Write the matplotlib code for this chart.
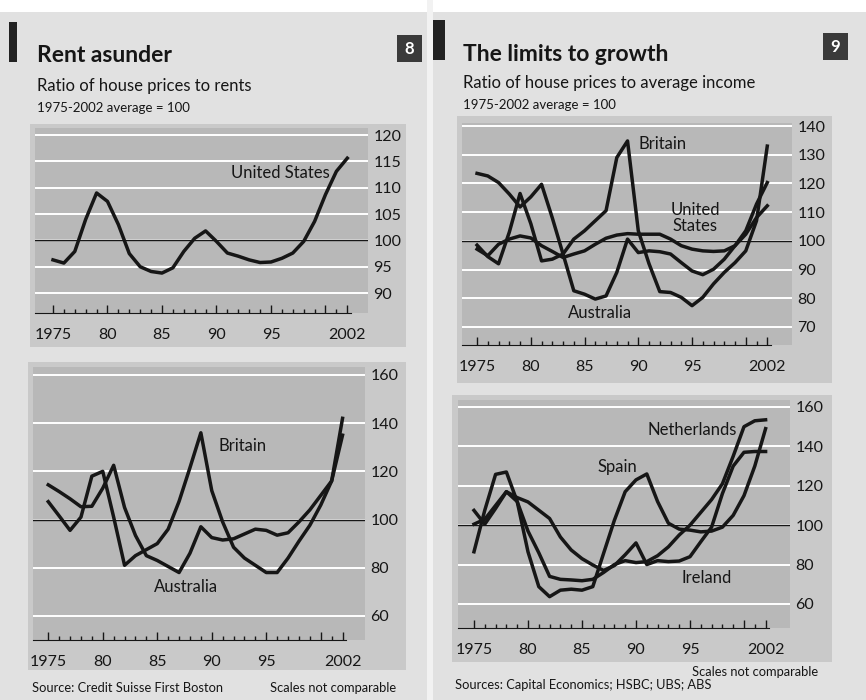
import matplotlib.pyplot as plt
from matplotlib.patches import Rectangle

years = list(range(1975, 2003))

# chart 8, ratio of house prices to rents
us_rent = [96.3, 95.7, 97.9, 104.0, 109.0, 107.4, 103.0, 97.5, 95.0, 94.1,
           93.8, 94.8, 97.9, 100.4, 101.8, 99.8, 97.6, 97.0, 96.3, 95.8,
           95.9, 96.6, 97.6, 99.8, 103.6, 108.7, 113.1, 115.6]
britain_rent = [107.4, 101.5, 95.5, 101.0, 118.0, 120.0, 101.0, 81.0, 85.0, 87.5,
                90.0, 96.0, 107.5, 121.5, 136.0, 112.0, 99.0, 88.5, 84.0, 81.0,
                78.0, 78.0, 84.0, 91.0, 97.6, 106.0, 116.0, 142.0]
australia_rent = [114.4, 111.6, 108.6, 105.3, 105.5, 113.0, 122.5, 105.0, 93.4, 85.0,
                  83.0, 80.5, 78.0, 86.0, 97.0, 92.5, 91.5, 92.0, 94.0, 96.0,
                  95.5, 93.5, 94.5, 99.0, 104.0, 110.0, 116.0, 135.0]

# chart 9, ratio of house prices to average income
britain_inc = [98.5, 94.5, 92.0, 103.0, 116.5, 106.0, 93.0, 93.6, 95.4, 100.6,
               103.5, 107.0, 110.5, 129.0, 134.8, 103.5, 92.0, 82.3, 82.0, 80.3,
               77.4, 80.3, 85.0, 89.0, 92.4, 96.5, 107.0, 133.0]
us_inc = [97.1, 94.8, 98.8, 100.6, 101.7, 101.0, 98.3, 96.3, 94.2, 95.4,
          96.5, 98.8, 100.9, 102.0, 102.5, 102.3, 102.3, 102.3, 100.6, 98.3,
          97.1, 96.5, 96.3, 96.5, 98.3, 102.3, 108.1, 112.2]
australia_inc = [123.5, 122.6, 120.3, 116.3, 111.8, 115.3, 119.7, 108.0, 95.4, 82.6,
                 81.4, 79.7, 80.8, 89.0, 100.6, 95.9, 96.5, 96.2, 95.4, 92.4,
                 89.5, 88.2, 90.1, 93.6, 98.3, 103.5, 112.8, 120.3]
spain_inc = [86.5, 107.6, 125.8, 127.0, 112.0, 86.5, 68.8, 63.7, 67.0, 67.5,
             67.0, 68.8, 85.7, 102.5, 117.0, 123.0, 126.0, 112.0, 101.0, 98.0,
             97.5, 96.6, 97.0, 99.0, 105.0, 115.0, 130.0, 149.0]
netherlands_inc = [100.5, 103.0, 110.0, 117.0, 112.0, 97.0, 86.0, 74.0, 72.5, 72.2,
                   71.8, 72.5, 76.0, 80.0, 82.0, 81.0, 81.5, 84.5, 89.0, 95.0,
                   100.0, 106.5, 113.0, 121.0, 135.0, 150.0, 153.0, 153.5]
ireland_inc = [107.5, 100.5, 108.5, 117.0, 114.0, 111.8, 107.6, 103.4, 94.0, 87.4,
               83.0, 79.8, 77.0, 79.5, 85.0, 91.0, 80.0, 82.0, 81.5, 81.8,
               84.0, 91.6, 99.0, 116.0, 130.0, 137.0, 137.4, 137.4]

W, H = 866, 700
plt.rcParams['font.family'] = ['Lato', 'DejaVu Sans']
INK = '#161616'

fig = plt.figure(figsize=(W / 100, H / 100), dpi=100, facecolor='#e1e1e1')


def rect(x0, y0, x1, y1, color):
    fig.add_artist(Rectangle((x0 / W, 1 - y1 / H), (x1 - x0) / W, (y1 - y0) / H,
                             transform=fig.transFigure, facecolor=color,
                             edgecolor='none', zorder=0))


def ftext(x, y, s, **kw):
    fig.text(x / W, 1 - y / H, s, color=INK, **kw)


def panel(box, xlim, ylim, yticks):
    x0, y0, x1, y1 = box
    ax = fig.add_axes([x0 / W, 1 - y1 / H, (x1 - x0) / W, (y1 - y0) / H])
    ax.set_facecolor('#b8b8b8')
    ax.set_xlim(xlim)
    ax.set_ylim(ylim)
    for s in ['top', 'left', 'right']:
        ax.spines[s].set_visible(False)
    ax.spines['bottom'].set_bounds(xlim[0], 2002.3)
    ax.spines['bottom'].set_color(INK)
    ax.set_axisbelow(True)
    ax.set_yticks(yticks)
    ax.yaxis.tick_right()
    ax.tick_params(axis='y', length=0, pad=4, labelsize=11.5, labelcolor=INK)
    ax.grid(axis='y', color='white', lw=1.4)
    ax.axhline(100, color=INK, lw=1.0, zorder=2)
    ax.set_xticks([1975, 1980, 1985, 1990, 1995, 2000, 2002])
    ax.set_xticklabels(['1975', '80', '85', '90', '95', '', '2002'])
    ax.set_xticks(years, minor=True)
    ax.tick_params(axis='x', which='both', direction='in', labelsize=11.5,
                   pad=11, labelcolor=INK, color=INK, width=1)
    ax.tick_params(axis='x', which='major', length=6)
    ax.tick_params(axis='x', which='minor', length=3)
    return ax


def line(ax, vals):
    ax.plot(years, vals, color=INK, lw=2.5, solid_joinstyle='round', zorder=3)


# page pieces
rect(0, 0, W, 12, 'white')
rect(427, 0, 433, H, '#f2f2f2')
rect(9, 22, 17, 62, '#222222')
rect(433, 20, 445, 60, '#222222')
rect(30, 124, 406, 347, '#c9c9c9')
rect(28, 362, 406, 670, '#c9c9c9')
rect(457, 116, 832, 383, '#c9c9c9')
rect(452, 395, 832, 662, '#c9c9c9')

# chart 8 headings
ftext(37, 62, 'Rent asunder', fontsize=16.5, fontweight='bold', va='baseline')
ftext(37, 91, 'Ratio of house prices to rents', fontsize=12, va='baseline')
ftext(37, 112, '1975-2002 average = 100', fontsize=9.5, va='baseline')
rect(397, 35, 422, 62, '#3a3a3a')
fig.text(409.5 / W, 1 - 49 / H, '8', color='white', fontsize=12, fontweight='bold',
         ha='center', va='center')

# chart 9 headings
ftext(463, 61, 'The limits to growth', fontsize=16.5, fontweight='bold', va='baseline')
ftext(463, 88, 'Ratio of house prices to average income', fontsize=12, va='baseline')
ftext(463, 109, '1975-2002 average = 100', fontsize=9.5, va='baseline')
rect(823, 33, 848, 60, '#3a3a3a')
fig.text(835.5 / W, 1 - 47 / H, '9', color='white', fontsize=12, fontweight='bold',
         ha='center', va='center')

# chart 8, top: United States
ax1 = panel((35, 128, 368, 313), (1973.35, 2003.9), (86.22, 121.33),
            [90, 95, 100, 105, 110, 115, 120])
line(ax1, us_rent)
ax1.text(1995.9, 112.8, 'United States', ha='center', va='center', fontsize=12, color=INK)

# chart 8, bottom: Britain and Australia
ax2 = panel((33, 367, 365, 640), (1973.6, 2004.06), (50.0, 163.3),
            [60, 80, 100, 120, 140, 160])
line(ax2, australia_rent)
line(ax2, britain_rent)
ax2.text(1992.8, 130.7, 'Britain', ha='center', va='center', fontsize=12, color=INK)
ax2.text(1987.6, 71.8, 'Australia', ha='center', va='center', fontsize=12, color=INK)

# chart 9, top: Britain, United States, Australia
ax3 = panel((462, 123, 792, 345), (1973.6, 2004.3), (63.7, 141.05),
            [70, 80, 90, 100, 110, 120, 130, 140])
line(ax3, us_inc)
line(ax3, australia_inc)
line(ax3, britain_inc)
ax3.text(1992.3, 133.9, 'Britain', ha='center', va='center', fontsize=12, color=INK)
ax3.text(1995.3, 108.0, 'United\nStates', ha='center', va='center', fontsize=12,
         color=INK, linespacing=0.95)
ax3.text(1986.4, 75.0, 'Australia', ha='center', va='center', fontsize=12, color=INK)

# chart 9, bottom: Netherlands, Spain, Ireland
ax4 = panel((458, 400, 790, 628), (1973.52, 2004.26), (47.8, 163.55),
            [60, 80, 100, 120, 140, 160])
line(ax4, ireland_inc)
line(ax4, netherlands_inc)
line(ax4, spain_inc)
ax4.text(1995.2, 148.2, 'Netherlands', ha='center', va='center', fontsize=12, color=INK)
ax4.text(1988.3, 129.6, 'Spain', ha='center', va='center', fontsize=12, color=INK)
ax4.text(1996.5, 73.0, 'Ireland', ha='center', va='center', fontsize=12, color=INK)

# sources
ftext(32, 688, 'Source: Credit Suisse First Boston', fontsize=9.3, va='center')
ftext(396, 688, 'Scales not comparable', fontsize=9.3, va='center', ha='right')
ftext(818, 672, 'Scales not comparable', fontsize=9.3, va='center', ha='right')
ftext(455, 685, 'Sources: Capital Economics; HSBC; UBS; ABS', fontsize=9.3, va='center')

fig.savefig('out.png', dpi=100, facecolor=fig.get_facecolor())
